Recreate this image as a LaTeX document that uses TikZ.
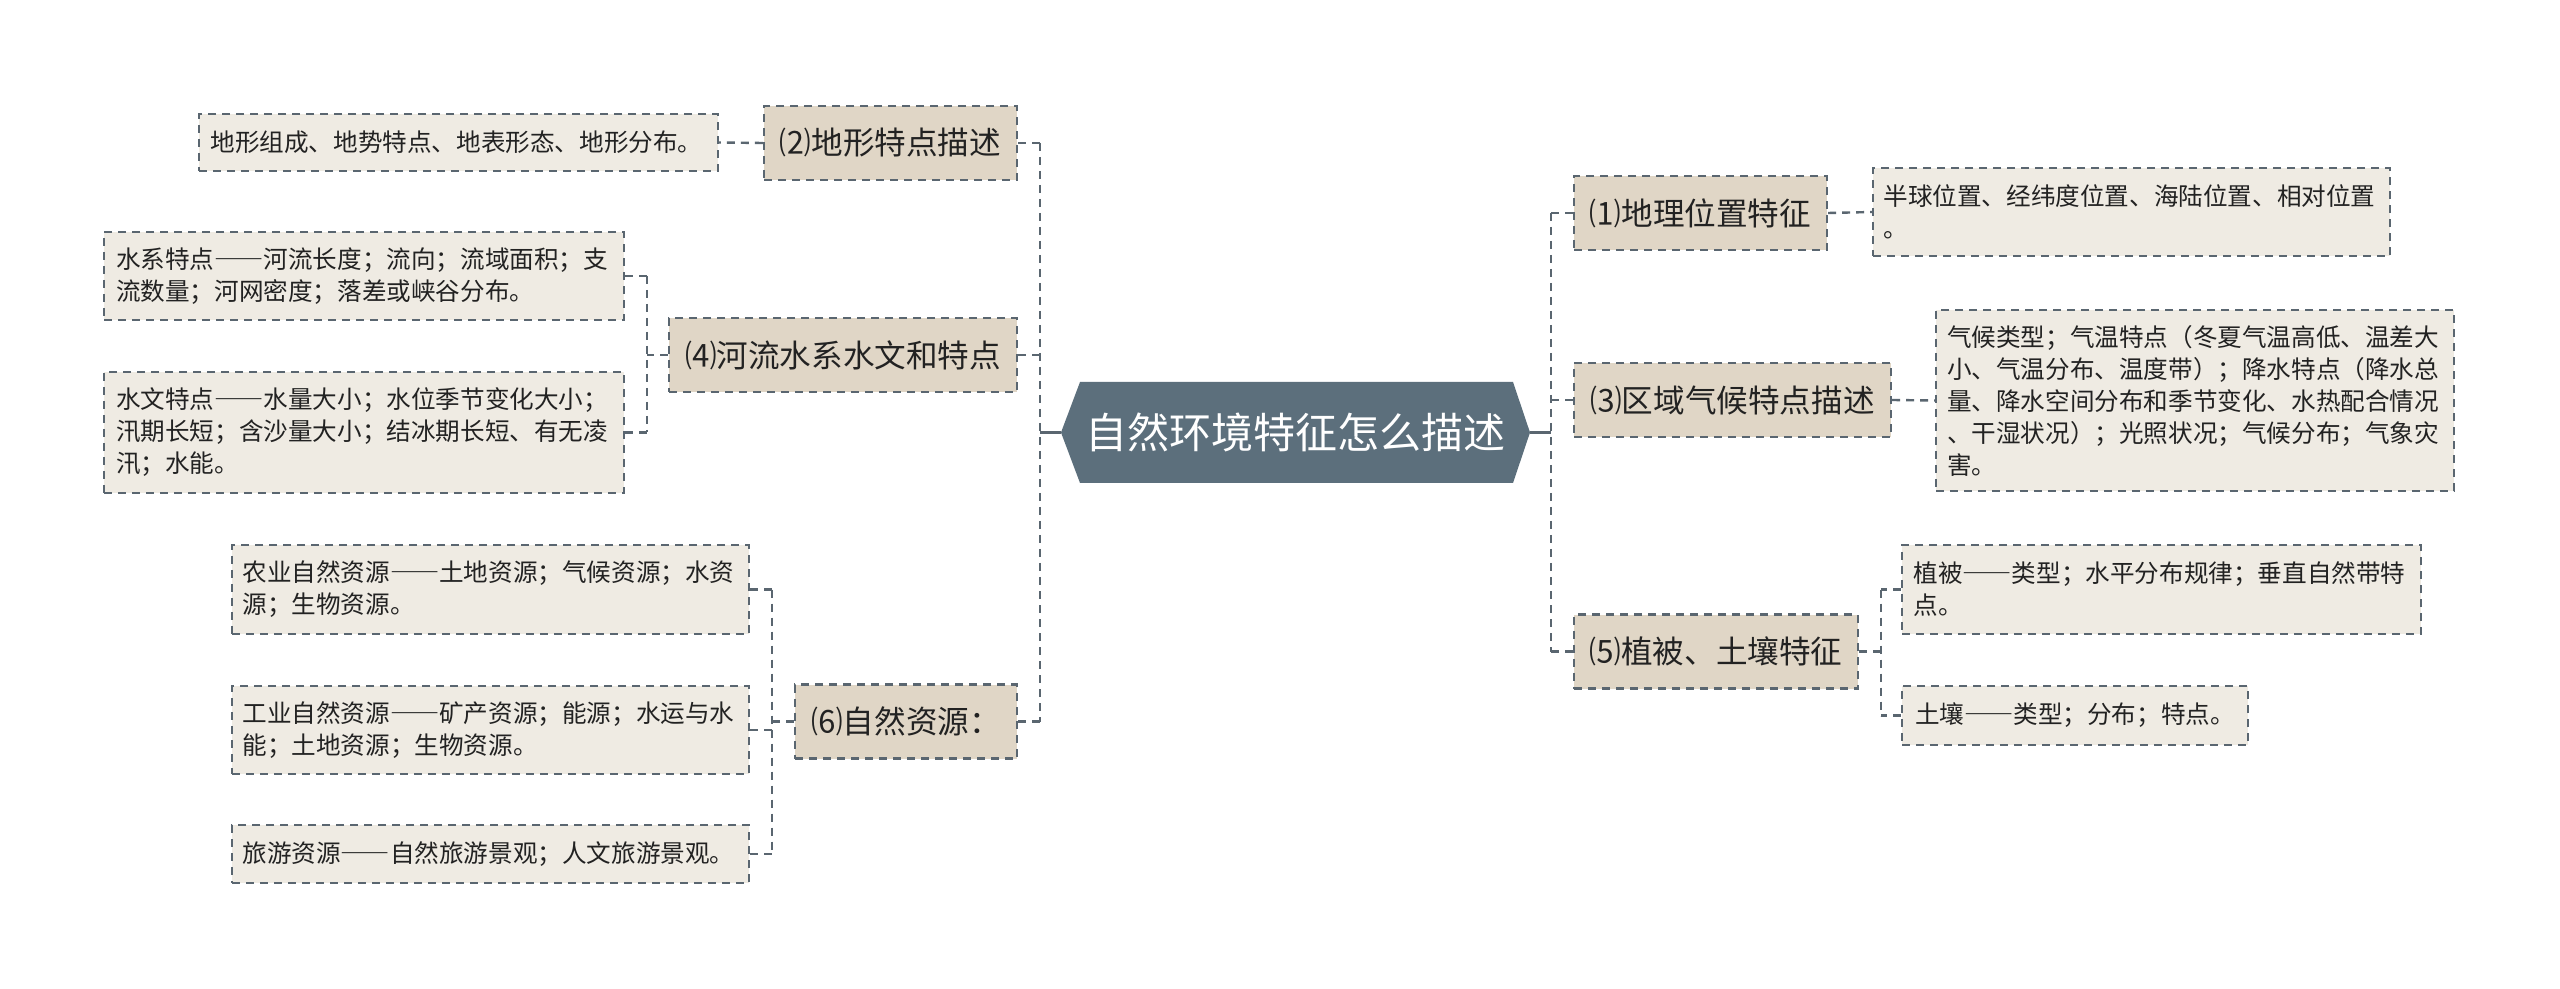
\documentclass[tikz,border=0pt]{standalone}
\usepackage{fontspec}
\setmainfont{Noto Sans CJK SC}
\newfontfamily\fwfont[RawFeature=+fwid]{Noto Sans CJK SC}
\newcommand{\dd}{{\fwfont ——}}
\definecolor{rootfill}{HTML}{5C6F7C}
\definecolor{mainfill}{HTML}{E0D6C6}
\definecolor{leaffill}{HTML}{EFEBE3}
\definecolor{linec}{HTML}{5A6670}
\definecolor{txt}{HTML}{222222}
\tikzset{
  conn/.style={draw=linec, line width=1.2pt, dash pattern=on 4pt off 3pt},
  rootnode/.style={inner sep=0pt, minimum width=234.5pt, minimum height=50.5pt, text=white, font=\fontsize{21}{26}\selectfont},
  mainbox/.style={draw=linec, line width=1.2pt, dash pattern=on 4pt off 3pt, fill=mainfill, text=txt, font=\fontsize{15.8}{19}\selectfont, inner sep=0pt, minimum height=37pt},
  leafbox/.style={draw=linec, line width=1.1pt, dash pattern=on 4pt off 3pt, fill=leaffill, text=txt, font=\fontsize{12.3}{16}\selectfont, inner sep=0pt, align=left, text width=248pt},
}
\begin{document}
\begin{tikzpicture}[x=0.5pt,y=-0.5pt]
\useasboundingbox[fill=white] (0,0) rectangle (2560,989);
% root
\fill[rootfill] (1061,432.5) -- (1080,382) -- (1513,382) -- (1530,432.5) -- (1513,483) -- (1080,483) -- cycle;
\node[rootnode] (root) at (1295.5,432.5) {自然环境特征怎么描述};
% level 1 left
\node[mainbox, minimum width=126.5pt] (n2) at (890.5,143) {⑵地形特点描述};
\node[mainbox, minimum width=174pt] (n4) at (843,355) {⑷河流水系水文和特点};
\node[mainbox, minimum width=111pt] (n6) at (906,721.5) {⑹自然资源：};
% level 1 right
\node[mainbox, minimum width=126.5pt] (n1) at (1700.5,213) {⑴地理位置特征};
\node[mainbox, minimum width=158.5pt] (n3) at (1732.5,400) {⑶区域气候特点描述};
\node[mainbox, minimum width=142pt] (n5) at (1716,651.5) {⑸植被、土壤特征};
% leaves left
\node[leafbox, minimum width=259.5pt, minimum height=28.5pt] (l2) at (458.5,142.5) {地形组成、地势特点、地表形态、地形分布。};
\node[leafbox, minimum width=260pt, minimum height=44pt] (l4a) at (364,276) {水系特点\dd 河流长度；流向；流域面积；支\\流数量；河网密度；落差或峡谷分布。};
\node[leafbox, minimum width=260pt, minimum height=60.5pt] (l4b) at (364,432.5) {水文特点\dd 水量大小；水位季节变化大小；\\汛期长短；含沙量大小；结冰期长短、有无凌\\汛；水能。};
\node[leafbox, minimum width=258.5pt, minimum height=44.5pt] (l6a) at (490.5,589.5) {农业自然资源\dd 土地资源；气候资源；水资\\源；生物资源。};
\node[leafbox, minimum width=258.5pt, minimum height=44pt] (l6b) at (490.5,730) {工业自然资源\dd 矿产资源；能源；水运与水\\能；土地资源；生物资源。};
\node[leafbox, minimum width=258.5pt, minimum height=29pt] (l6c) at (490.5,854) {旅游资源\dd 自然旅游景观；人文旅游景观。};
% leaves right
\node[leafbox, minimum width=258.5pt, minimum height=44pt] (r1) at (2131.5,212) {半球位置、经纬度位置、海陆位置、相对位置\\。};
\node[leafbox, minimum width=259pt, minimum height=90.5pt] (r3) at (2195,400.5) {气候类型；气温特点（冬夏气温高低、温差大\\小、气温分布、温度带）；降水特点（降水总\\量、降水空间分布和季节变化、水热配合情况\\、干湿状况）；光照状况；气候分布；气象灾\\害。};
\node[leafbox, minimum width=259.5pt, minimum height=44.5pt] (r5a) at (2161.5,589.5) {植被\dd 类型；水平分布规律；垂直自然带特\\点。};
\node[leafbox, text width=160pt, minimum width=173pt, minimum height=29.5pt] (r5b) at (2075,715.5) {土壤\dd 类型；分布；特点。};
% trunk coordinates
\coordinate (lt) at (1040,432.5);
\coordinate (rt) at (1551,432.5);
\coordinate (s4) at (647,355);
\coordinate (s6) at (772,721.5);
\coordinate (s5) at (1881,651.5);
% root to trunks
\draw[draw=linec, line width=1.2pt] (root.west) -- (lt);
\draw[draw=linec, line width=1.2pt] (root.east) -- (rt);
\draw[conn] (lt |- n2.east) -- (lt |- n6.east);
\draw[conn] (n2.east) -- (lt |- n2.east);
\draw[conn] (n4.east) -- (lt |- n4.east);
\draw[conn] (n6.east) -- (lt |- n6.east);
\draw[conn] (rt |- n1.west) -- (rt |- n5.west);
\draw[conn] (n1.west) -- (rt |- n1.west);
\draw[conn] (n3.west) -- (rt |- n3.west);
\draw[conn] (n5.west) -- (rt |- n5.west);
% level1 to leaves
\draw[conn] (n2.west) -- (l2.east);
\draw[conn] (n4.west) -- (s4);
\draw[conn] (s4 |- l4a.east) -- (s4 |- l4b.east);
\draw[conn] (l4a.east) -- (s4 |- l4a.east);
\draw[conn] (l4b.east) -- (s4 |- l4b.east);
\draw[conn] (n6.west) -- (s6);
\draw[conn] (s6 |- l6a.east) -- (s6 |- l6c.east);
\draw[conn] (l6a.east) -- (s6 |- l6a.east);
\draw[conn] (l6b.east) -- (s6 |- l6b.east);
\draw[conn] (l6c.east) -- (s6 |- l6c.east);
\draw[conn] (n1.east) -- (r1.west);
\draw[conn] (n3.east) -- (r3.west);
\draw[conn] (n5.east) -- (s5);
\draw[conn] (s5 |- r5a.west) -- (s5 |- r5b.west);
\draw[conn] (r5a.west) -- (s5 |- r5a.west);
\draw[conn] (r5b.west) -- (s5 |- r5b.west);
\end{tikzpicture}
\end{document}
